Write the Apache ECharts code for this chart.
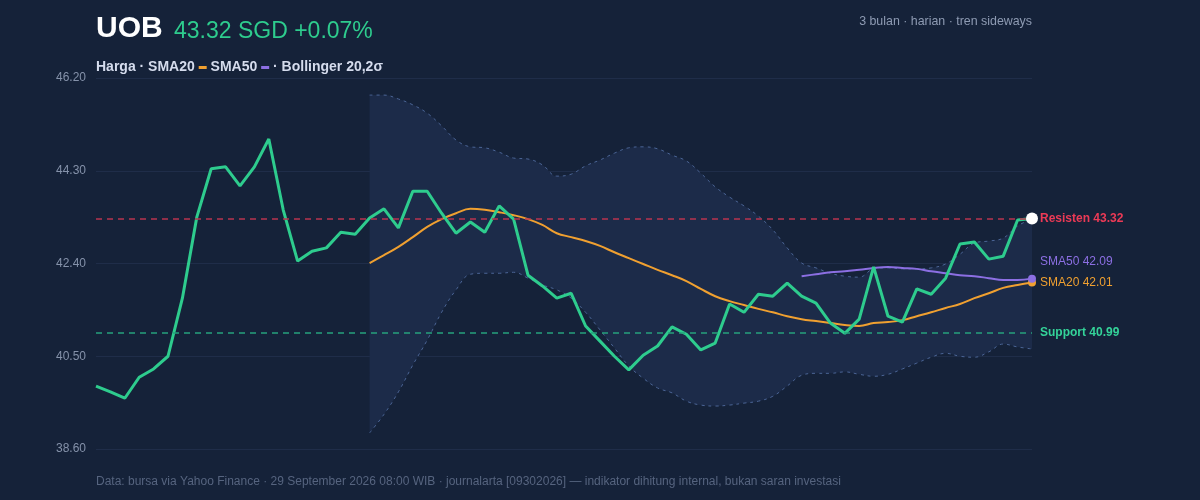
<!DOCTYPE html>
<html>
<head>
    <meta charset="UTF-8">
    <title>UOB</title>
    <script type="text/javascript" src="https://cdn.jsdelivr.net/npm/echarts@6/dist/echarts.min.js"></script>
    <style>
        html, body { margin: 0; padding: 0; background: #152239; }
    </style>
</head>
<body>
    <div id="main" style="width: 1200px;height:500px;"></div>
    <script type="text/javascript">
// tanggal perdagangan (harian, 3 bulan)
var dates = ['30/06',
  '01/07','02/07','03/07','06/07','07/07','08/07','09/07','10/07','13/07','14/07','15/07','16/07',
  '17/07','20/07','21/07','22/07','23/07','24/07','27/07','28/07','29/07','30/07','31/07',
  '03/08','04/08','05/08','06/08','07/08','10/08','11/08','12/08','13/08','14/08','17/08',
  '18/08','19/08','20/08','21/08','24/08','25/08','26/08','27/08','28/08','31/08',
  '01/09','02/09','03/09','04/09','07/09','08/09','09/09','10/09','11/09','14/09','15/09',
  '16/09','17/09','18/09','21/09','22/09','23/09','24/09','25/09','28/09','29/09'];

var price = [39.89, 39.77, 39.64, 40.07, 40.24, 40.50, 41.69, 43.35, 44.34, 44.38,
  43.99, 44.38, 44.95, 43.50, 42.45, 42.65, 42.72, 43.04, 43.00, 43.33,
  43.52, 43.13, 43.88, 43.88, 43.43, 43.02, 43.25, 43.04, 43.58, 43.31,
  42.16, 41.94, 41.69, 41.79, 41.12, 40.81, 40.50, 40.22, 40.52, 40.71,
  41.10, 40.95, 40.63, 40.77, 41.57, 41.40, 41.77, 41.73, 42.00, 41.73,
  41.59, 41.18, 40.97, 41.26, 42.33, 41.32, 41.20, 41.88, 41.77, 42.10,
  42.80, 42.84, 42.49, 42.55, 43.29, 43.32];

// SMA20 & Bollinger mulai hari ke-20, SMA50 mulai hari ke-50
var sma20Start = 19;
var sma20 = [42.41, 42.57, 42.74, 42.94, 43.15, 43.31, 43.43, 43.52, 43.50, 43.45,
  43.39, 43.31, 43.19, 43.02, 42.94, 42.86, 42.76, 42.63, 42.51, 42.39,
  42.27, 42.16, 42.04, 41.88, 41.73, 41.63, 41.55, 41.47, 41.40, 41.32,
  41.26, 41.22, 41.18, 41.14, 41.12, 41.18, 41.20, 41.24, 41.32, 41.40,
  41.49, 41.57, 41.69, 41.79, 41.90, 41.96, 42.01];

var sma50Start = 49;
var sma50 = [42.14, 42.18, 42.22, 42.24, 42.27, 42.31, 42.33, 42.31, 42.29, 42.24,
  42.20, 42.16, 42.14, 42.10, 42.06, 42.06, 42.09];

var bbUpper = [45.85, 45.85, 45.77, 45.65, 45.48, 45.22, 44.93, 44.79, 44.77, 44.68,
  44.56, 44.54, 44.42, 44.19, 44.23, 44.40, 44.52, 44.66, 44.77, 44.79,
  44.75, 44.62, 44.50, 44.25, 43.97, 43.76, 43.58, 43.37, 43.09, 42.72,
  42.41, 42.31, 42.20, 42.14, 42.12, 42.29, 42.31, 42.29, 42.29, 42.31,
  42.39, 42.59, 42.82, 42.86, 42.92, 43.17, 43.31];
var bbLower = [38.93, 39.31, 39.77, 40.32, 40.83, 41.40, 41.86, 42.18, 42.20, 42.20,
  42.22, 42.10, 41.96, 41.86, 41.69, 41.40, 41.04, 40.67, 40.30, 40.05,
  39.85, 39.75, 39.58, 39.50, 39.48, 39.50, 39.54, 39.58, 39.68, 39.89,
  40.11, 40.15, 40.15, 40.18, 40.13, 40.09, 40.13, 40.24, 40.36, 40.48,
  40.56, 40.50, 40.48, 40.59, 40.75, 40.69, 40.65];

var resistance = 43.32;
var support = 40.99;
var yTicks = [38.60, 40.50, 42.40, 44.30, 46.20];

var lastIdx = price.length - 1;
var lastPrice = price[lastIdx];
var changePct = 0.07;

var fontFamily = '"Liberation Sans", Arial, sans-serif';

function pad(start, arr) {
  var out = [];
  for (var i = 0; i < start; i++) out.push('-');
  return out.concat(arr);
}

// bulatan di titik terakhir
function endDot(value, color, size) {
  return {
    symbol: 'circle',
    symbolSize: size,
    silent: true,
    label: { show: false },
    itemStyle: { color: color, borderWidth: 0 },
    data: [{ coord: [dates[lastIdx], value] }]
  };
}

var bandRange = bbUpper.map(function (v, i) { return +(v - bbLower[i]).toFixed(2); });

var myChart = echarts.init(document.getElementById('main'));

var option = {
  backgroundColor: '#152239',
  animation: false,
  textStyle: { fontFamily: fontFamily },
  title: [
    {
      text: 'UOB', left: 96, top: 14, padding: 0,
      textStyle: { color: '#ffffff', fontSize: 30, fontWeight: 'bold', lineHeight: 30, fontFamily: fontFamily }
    },
    {
      text: lastPrice.toFixed(2) + ' SGD +' + changePct.toFixed(2) + '%', left: 174, top: 20, padding: 0,
      textStyle: { color: '#2ecc8e', fontSize: 23, fontWeight: 'normal', lineHeight: 23, fontFamily: fontFamily }
    },
    {
      text: '3 bulan · harian · tren sideways', right: 168, top: 15, padding: 0,
      textStyle: { color: '#8e9bb3', fontSize: 12.4, fontWeight: 'normal', lineHeight: 13, fontFamily: fontFamily }
    },
    {
      text: 'Harga · SMA20 {o| } SMA50 {p| } · Bollinger 20,2σ', left: 96, top: 60, padding: 0,
      textStyle: {
        color: '#d5dced', fontSize: 14, fontWeight: 'bold', lineHeight: 15, fontFamily: fontFamily,
        rich: {
          o: { backgroundColor: '#f0a030', width: 8, height: 3, fontSize: 3, lineHeight: 3 },
          p: { backgroundColor: '#8c6fe3', width: 8, height: 3, fontSize: 3, lineHeight: 3 }
        }
      }
    },
    {
      text: 'Data: bursa via Yahoo Finance · 29 September 2026 08:00 WIB · journalarta [09302026] — indikator dihitung internal, bukan saran investasi',
      left: 96, top: 475, padding: 0,
      textStyle: { color: '#56647f', fontSize: 12, fontWeight: 'normal', lineHeight: 13, fontFamily: fontFamily }
    }
  ],
  grid: {
    left: 96,
    right: 168,
    top: 78,
    bottom: 51
  },
  xAxis: {
    type: 'category',
    data: dates,
    boundaryGap: false,
    axisLine: { show: false },
    axisTick: { show: false },
    axisLabel: { show: false },
    splitLine: { show: false }
  },
  yAxis: {
    type: 'value',
    min: yTicks[0],
    max: yTicks[yTicks.length - 1],
    interval: 1.9,
    axisLine: { show: false },
    axisTick: { show: false },
    axisLabel: {
      color: '#8592aa',
      fontSize: 12,
      margin: 10,
      formatter: function (v) { return v.toFixed(2); }
    },
    splitLine: {
      show: true,
      lineStyle: { color: '#1f2d49', width: 1 }
    }
  },
  series: [
    {
      name: 'bbBase',
      type: 'line',
      stack: 'bb',
      smooth: 0.4,
      symbol: 'none',
      lineStyle: { width: 0, opacity: 0 },
      data: pad(sma20Start, bbLower),
      z: 1,
      markLine: {
        silent: true,
        symbol: 'none',
        data: [
          {
            yAxis: resistance,
            lineStyle: { color: '#b8354f', width: 1.5, type: [6, 5] },
            label: {
              show: true, position: 'end', distance: 8,
              formatter: 'Resisten ' + resistance.toFixed(2),
              color: '#ec3a56', fontSize: 12, fontWeight: 'bold', fontFamily: fontFamily
            }
          },
          {
            yAxis: support,
            lineStyle: { color: '#26a17c', width: 1.5, type: [6, 5] },
            label: {
              show: true, position: 'end', distance: 8,
              formatter: 'Support ' + support.toFixed(2),
              color: '#34d399', fontSize: 12, fontWeight: 'bold', fontFamily: fontFamily
            }
          }
        ]
      }
    },
    {
      name: 'bbRange',
      type: 'line',
      stack: 'bb',
      smooth: 0.4,
      symbol: 'none',
      lineStyle: { width: 0, opacity: 0 },
      areaStyle: { color: '#1c2b49', opacity: 1 },
      data: pad(sma20Start, bandRange),
      z: 1
    },
    {
      name: 'BB atas',
      type: 'line',
      smooth: 0.4,
      symbol: 'none',
      lineStyle: { color: '#4b6596', width: 1, type: [3, 4] },
      data: pad(sma20Start, bbUpper),
      z: 2
    },
    {
      name: 'BB bawah',
      type: 'line',
      smooth: 0.4,
      symbol: 'none',
      lineStyle: { color: '#4b6596', width: 1, type: [3, 4] },
      data: pad(sma20Start, bbLower),
      z: 2
    },
    {
      name: 'SMA20',
      type: 'line',
      smooth: 0.4,
      symbol: 'none',
      lineStyle: { color: '#f0a030', width: 2 },
      itemStyle: { color: '#f0a030' },
      data: pad(sma20Start, sma20),
      markPoint: endDot(sma20[sma20.length - 1], '#f0a030', 8),
      endLabel: {
        show: true, distance: 8, offset: [0, 0],
        formatter: function () { return 'SMA20 ' + sma20[sma20.length - 1].toFixed(2); },
        color: '#f0a030', fontSize: 12, fontFamily: fontFamily
      },
      z: 3
    },
    {
      name: 'SMA50',
      type: 'line',
      smooth: 0.4,
      symbol: 'none',
      lineStyle: { color: '#8c6fe3', width: 2 },
      itemStyle: { color: '#8c6fe3' },
      data: pad(sma50Start, sma50),
      markPoint: endDot(sma50[sma50.length - 1], '#8c6fe3', 8),
      endLabel: {
        show: true, distance: 8, offset: [0, -17],
        formatter: function () { return 'SMA50 ' + sma50[sma50.length - 1].toFixed(2); },
        color: '#8c6fe3', fontSize: 12, fontFamily: fontFamily
      },
      z: 3
    },
    {
      name: 'Harga',
      type: 'line',
      symbol: 'none',
      lineStyle: { color: '#2ecc8e', width: 3 },
      itemStyle: { color: '#2ecc8e' },
      data: price,
      markPoint: endDot(lastPrice, '#ffffff', 12),
      z: 4
    }
  ]
};

myChart.setOption(option);
    </script>
</body>
</html>
